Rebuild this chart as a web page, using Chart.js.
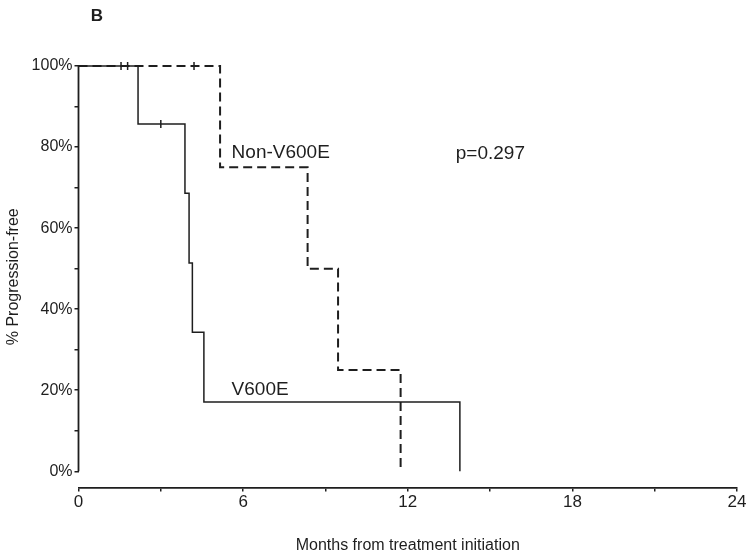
<!DOCTYPE html>
<html>
<head>
<meta charset="utf-8">
<script src="https://cdn.jsdelivr.net/npm/chart.js@4/dist/chart.umd.min.js"></script>
<style>
    html, body { margin: 0; padding: 0; background: #fff; }
    #wrap { width: 750px; height: 560px; }
</style>
</head>
<body>
<div id="wrap"><canvas id="kmChart" width="750" height="560"></canvas></div>
<script>
// Kaplan-Meier steps (months, proportion progression-free)
const v600eMonths = [0, 2.17, 3.88, 4.03, 4.15, 4.57, 13.9];
const v600eSurvival = [1, 0.857, 0.686, 0.514, 0.343, 0.171, 0];
const nonV600eMonths = [0, 5.16, 8.35, 9.46, 11.74];
const nonV600eSurvival = [1, 0.75, 0.5, 0.25, 0];

// censored observations
const v600eCensorMonths = [1.55, 1.79, 3.0];
const v600eCensorSurvival = [1, 1, 0.857];
const nonV600eCensorMonths = [4.21];
const nonV600eCensorSurvival = [1];

const xTicks = [0, 3, 6, 9, 12, 15, 18, 21, 24];
const yTicks = [0, 0.1, 0.2, 0.3, 0.4, 0.5, 0.6, 0.7, 0.8, 0.9, 1.0];

const ink = '#1e1e1e';
const font = { family: '"Liberation Sans", Arial, sans-serif', size: 16 };

const toPoints = (xs, ys) => xs.map((x, i) => ({ x: x, y: ys[i] }));

// text labels + the y axis line (which stops at 0%, leaving the corner open)
const extras = {
    id: 'extras',
    afterDraw(chart) {
        const { ctx, scales: { x, y } } = chart;
        ctx.save();
        ctx.strokeStyle = ink;
        ctx.lineWidth = 1.8;
        ctx.beginPath();
        ctx.moveTo(x.left, y.getPixelForValue(0));
        ctx.lineTo(x.left, y.getPixelForValue(1));
        ctx.stroke();

        ctx.fillStyle = ink;
        ctx.textBaseline = 'middle';
        ctx.textAlign = 'left';
        ctx.font = '19px "Liberation Sans", Arial, sans-serif';
        ctx.fillText('Non-V600E', x.getPixelForValue(5.58), y.getPixelForValue(0.787));
        ctx.fillText('p=0.297', x.getPixelForValue(13.75), y.getPixelForValue(0.784));
        ctx.fillText('V600E', x.getPixelForValue(5.58), y.getPixelForValue(0.202));

        ctx.font = 'bold 17px "Liberation Sans", Arial, sans-serif';
        ctx.textAlign = 'center';
        ctx.fillText('B', 97, 16);
        ctx.restore();
    }
};

new Chart(document.getElementById('kmChart'), {
    type: 'line',
    data: {
        datasets: [{
            label: 'V600E',
            data: toPoints(v600eMonths, v600eSurvival),
            borderColor: ink,
            borderWidth: 1.5,
            stepped: true,
            pointRadius: 0,
            clip: false
        }, {
            label: 'Non-V600E',
            data: toPoints(nonV600eMonths, nonV600eSurvival),
            borderColor: ink,
            borderWidth: 2,
            borderDash: [9, 5],
            stepped: true,
            pointRadius: 0,
            clip: false
        }, {
            label: 'V600E censored',
            data: toPoints(v600eCensorMonths, v600eCensorSurvival),
            showLine: false,
            pointStyle: 'line',
            rotation: 90,
            pointRadius: 4,
            borderColor: ink,
            borderWidth: 1.5,
            clip: false
        }, {
            label: 'Non-V600E censored',
            data: toPoints(nonV600eCensorMonths, nonV600eCensorSurvival),
            showLine: false,
            pointStyle: 'line',
            rotation: 90,
            pointRadius: 4,
            borderColor: ink,
            borderWidth: 1.5,
            clip: false
        }]
    },
    options: {
        responsive: false,
        animation: false,
        layout: { padding: { top: 66, right: 13, bottom: 1, left: 0 } },
        scales: {
            x: {
                type: 'linear',
                min: 0,
                max: 24,
                afterBuildTicks: (scale) => { scale.ticks = xTicks.map(v => ({ value: v })); },
                afterFit: (scale) => { scale.height = 71.5; },
                ticks: {
                    color: ink,
                    font: { family: font.family, size: 17 },
                    padding: 1,
                    maxRotation: 0,
                    autoSkip: false,
                    callback: (v) => (v % 6 === 0 ? String(v) : '')
                },
                grid: { drawOnChartArea: false, tickLength: 4, color: ink, lineWidth: 1.5 },
                border: { display: true, color: ink, width: 1.8 },
                title: {
                    display: true,
                    text: 'Months from treatment initiation',
                    color: ink,
                    font: font
                }
            },
            y: {
                type: 'linear',
                min: -0.04,
                max: 1,
                afterBuildTicks: (scale) => { scale.ticks = yTicks.map(v => ({ value: v })); },
                afterFit: (scale) => { scale.width = 78.5; },
                ticks: {
                    color: ink,
                    font: font,
                    padding: 2,
                    autoSkip: false,
                    callback: (v) => {
                        const pct = Math.round(v * 100);
                        return pct % 20 === 0 ? pct + '%' : '';
                    }
                },
                grid: { drawOnChartArea: false, tickLength: 4, color: ink, lineWidth: 1.5 },
                border: { display: false },
                title: {
                    display: true,
                    text: '% Progression-free',
                    color: ink,
                    font: font
                }
            }
        },
        plugins: {
            legend: { display: false },
            tooltip: { enabled: false }
        }
    },
    plugins: [extras]
});
</script>
</body>
</html>
